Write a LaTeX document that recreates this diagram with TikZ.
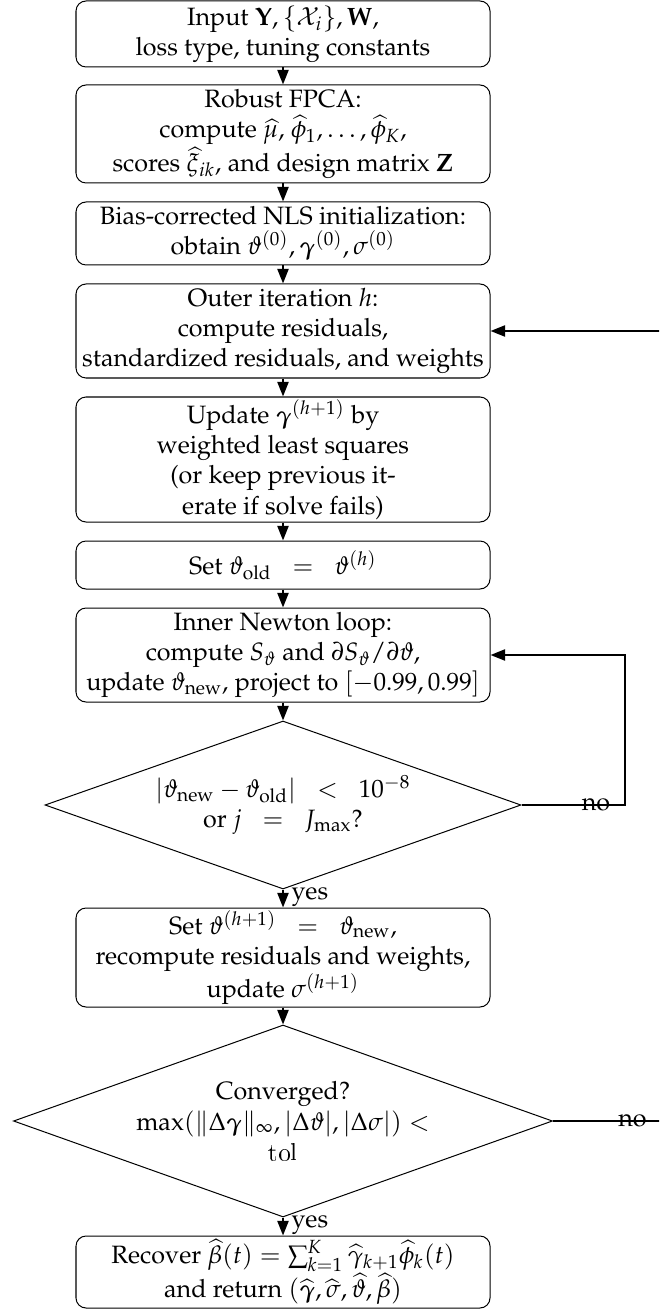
\documentclass[tikz,border=0pt]{standalone}
\usepackage[T1]{fontenc}
\usepackage{amsmath}
\usepackage{mathpazo}
\renewcommand{\ttdefault}{lmtt}
\usetikzlibrary{shapes.geometric,arrows.meta}
\newcommand{\opsp}{\mkern10mu}
\def\u{0.3984pt}
\begin{document}
\begin{tikzpicture}[x=0.3984pt,y=-0.3984pt,
  box/.style={draw, rounded corners=4pt, line width=0.4pt, minimum width=414*0.3984pt, inner sep=0pt, align=center},
  dec/.style={draw, diamond, line width=0.4pt, inner sep=0pt, align=center},
  arr/.style={-{Triangle[length=5.8pt,width=4.4pt]}, line width=0.8pt},
  lab/.style={inner sep=0pt}]
\useasboundingbox (0,0) rectangle (659,1310);
\clip (0,0) rectangle (659,1310);

\node[box, minimum height=66*\u] (input) at (283,34)
  {Input $\mathbf{Y},\{\mathcal{X}_i\},\mathbf{W}$,\\ loss type, tuning constants};
\node[box, minimum height=98*\u] (fpca) at (283,134)
  {Robust FPCA:\\ compute $\widehat{\mu}$, $\widehat{\phi}_1,\dots,\widehat{\phi}_K$,\\ scores $\widehat{\xi}_{ik}$, and design matrix $\mathbf{Z}$};
\node[box, minimum height=63*\u] (init) at (283,233.5)
  {Bias-corrected NLS initialization:\\ obtain $\vartheta^{(0)},\boldsymbol{\gamma}^{(0)},\sigma^{(0)}$};
\node[box, minimum height=94*\u] (outer) at (283,331)
  {Outer iteration $h$:\\ compute residuals,\\ standardized residuals, and weights};
\node[box, minimum height=125*\u] (upd) at (283,459.5)
  {Update $\boldsymbol{\gamma}^{(h+1)}$ by\\ weighted least squares\\ (or keep previous it-\\ erate if solve fails)};
\node[box, minimum height=48*\u] (setold) at (283,565)
  {Set $\vartheta_{\text{old}}\opsp=\opsp\vartheta^{(h)}$};
\node[box, minimum height=94*\u] (inner) at (283,655)
  {Inner Newton loop:\\ compute $S_\vartheta$ and $\partial S_\vartheta/\partial\vartheta$,\\ update $\vartheta_{\text{new}}$, project to $[-0.99,0.99]$};
\node[dec, aspect=2.833, minimum width=476*\u, minimum height=168*\u] (d1) at (283,805)
  {$|\vartheta_{\text{new}}-\vartheta_{\text{old}}|\opsp<\opsp10^{-8}$\\ or $j\opsp=\opsp J_{\max}$?};
\node[box, minimum height=99*\u] (setnew) at (283,957.5)
  {Set $\vartheta^{(h+1)}\opsp=\opsp\vartheta_{\text{new}}$,\\ recompute residuals and weights,\\ update $\sigma^{(h+1)}$};
\node[dec, aspect=2.807, minimum width=539*\u, minimum height=192*\u] (d2) at (283,1121)
  {Converged?\\ $\max(\|\Delta\boldsymbol{\gamma}\|_\infty,|\Delta\vartheta|,|\Delta\sigma|)<$\\ \texttt{tol}};
\node[box, minimum height=72*\u] (rec) at (283,1272)
  {Recover $\widehat{\beta}(t)=\sum_{k=1}^{K}\widehat{\gamma}_{k+1}\widehat{\phi}_k(t)$\\ and return $(\widehat{\boldsymbol{\gamma}},\widehat{\sigma},\widehat{\vartheta},\widehat{\beta})$};

\coordinate (r1) at (625,805);
\coordinate (r2) at (690,1121);

\draw[arr] (input) -- (fpca);
\draw[arr] (fpca) -- (init);
\draw[arr] (init) -- (outer);
\draw[arr] (outer) -- (upd);
\draw[arr] (upd) -- (setold);
\draw[arr] (setold) -- (inner);
\draw[arr] (inner) -- (d1);
\draw[arr] (d1) -- node[lab, right=3pt, pos=0.4]{yes} (setnew);
\draw[arr] (setnew) -- (d2);
\draw[arr] (d2) -- node[lab, right=3pt, pos=0.4]{yes} (rec);
\draw[arr] (d1.east) -- node[lab, pos=0.72]{no} (r1) |- (inner.east);
\draw[arr] (d2.east) -- node[lab, pos=0.58]{no} (r2) |- (outer.east);
\end{tikzpicture}
\end{document}
